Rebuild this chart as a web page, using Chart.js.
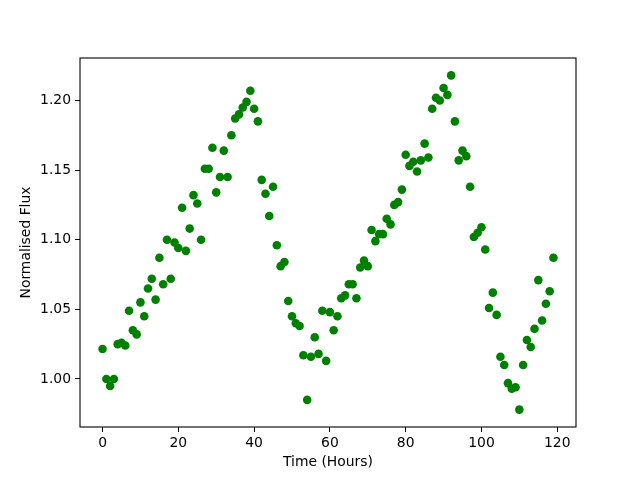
<!DOCTYPE html>
<html>
<head>
<meta charset="utf-8">
<script src="https://cdn.jsdelivr.net/npm/chart.js@4/dist/chart.umd.min.js"></script>
<style>
html,body{margin:0;padding:0;background:#fff;}
#c{display:block;}
</style>
</head>
<body>
<canvas id="c" width="640" height="480"></canvas>
<script>
const hours = [0,1,2,3,4,5,6,7,8,9,10,11,12,13,14,15,16,17,18,19,
  20,21,22,23,24,25,26,27,28,29,30,31,32,33,34,35,36,37,38,39,
  40,41,42,43,44,45,46,47,48,49,50,51,52,53,54,55,56,57,58,59,
  60,61,62,63,64,65,66,67,68,69,70,71,72,73,74,75,76,77,78,79,
  80,81,82,83,84,85,86,87,88,89,90,91,92,93,94,95,96,97,98,99,
  100,101,102,103,104,105,106,107,108,109,110,111,112,113,114,115,116,117,118,119];
const flux = [1.0215,1.000,0.995,1.000,1.025,1.026,1.024,1.049,1.035,1.032,
  1.055,1.045,1.065,1.072,1.057,1.087,1.068,1.100,1.072,1.098,
  1.094,1.123,1.092,1.108,1.132,1.126,1.100,1.151,1.151,1.166,
  1.134,1.145,1.164,1.145,1.175,1.187,1.190,1.195,1.199,1.207,
  1.194,1.185,1.143,1.133,1.117,1.138,1.096,1.081,1.084,1.056,
  1.045,1.040,1.038,1.017,0.985,1.016,1.030,1.018,1.049,1.013,
  1.048,1.035,1.045,1.058,1.060,1.068,1.068,1.058,1.080,1.085,
  1.081,1.107,1.099,1.104,1.104,1.115,1.111,1.125,1.127,1.136,
  1.161,1.153,1.156,1.149,1.157,1.169,1.159,1.194,1.202,1.200,
  1.209,1.204,1.218,1.185,1.157,1.164,1.160,1.138,1.102,1.105,
  1.109,1.093,1.051,1.062,1.046,1.016,1.010,0.997,0.993,0.994,
  0.978,1.010,1.028,1.023,1.036,1.071,1.042,1.054,1.063,1.087];
const xTicks = [0,20,40,60,80,100,120];
const yTicks = [1.00,1.05,1.10,1.15,1.20];
const xTitle = 'Time (Hours)';
const yTitle = 'Normalised Flux';

const points = hours.map((h,i)=>({x:h,y:flux[i]}));
const font = {family:'DejaVu Sans', size:13.9};

const frame = {
  id:'frame',
  afterDraw(chart){
    const {ctx, chartArea:a} = chart;
    ctx.save();
    ctx.strokeStyle = '#000';
    ctx.lineWidth = 1.1;
    ctx.strokeRect(a.left, a.top, a.right - a.left, a.bottom - a.top);
    ctx.restore();
  }
};

new Chart(document.getElementById('c'), {
  type:'scatter',
  data:{datasets:[{data:points, backgroundColor:'#008000', borderWidth:0, pointRadius:4.3, pointHoverRadius:4.3}]},
  options:{
    responsive:false, animation:false,
    layout:{padding:{top:58,right:64,left:0,bottom:0}},
    plugins:{legend:{display:false}, tooltip:{enabled:false}},
    scales:{
      x:{type:'linear', min:-5.95, max:124.95,
        afterBuildTicks:s=>{s.ticks = xTicks.map(v=>({value:v}));},
        afterFit:s=>{s.height = 53;},
        grid:{drawOnChartArea:false, drawTicks:true, tickLength:5, color:'#000', tickColor:'#000', lineWidth:1},
        border:{display:false},
        ticks:{color:'#000', font, padding:3, maxRotation:0, callback:v=>String(v)},
        title:{display:true, text:xTitle, color:'#000', font, padding:{top:0,bottom:9}}
      },
      y:{type:'linear', min:0.9655, max:1.2305,
        afterBuildTicks:s=>{s.ticks = yTicks.map(v=>({value:v}));},
        afterFit:s=>{s.width = 80;},
        grid:{drawOnChartArea:false, drawTicks:true, tickLength:5, color:'#000', tickColor:'#000', lineWidth:1},
        border:{display:false},
        ticks:{color:'#000', font, padding:4, callback:v=>Number(v).toFixed(2)},
        title:{display:true, text:yTitle, color:'#000', font, padding:{top:18,bottom:0}}
      }
    }
  },
  plugins:[frame]
});
</script>
</body>
</html>
